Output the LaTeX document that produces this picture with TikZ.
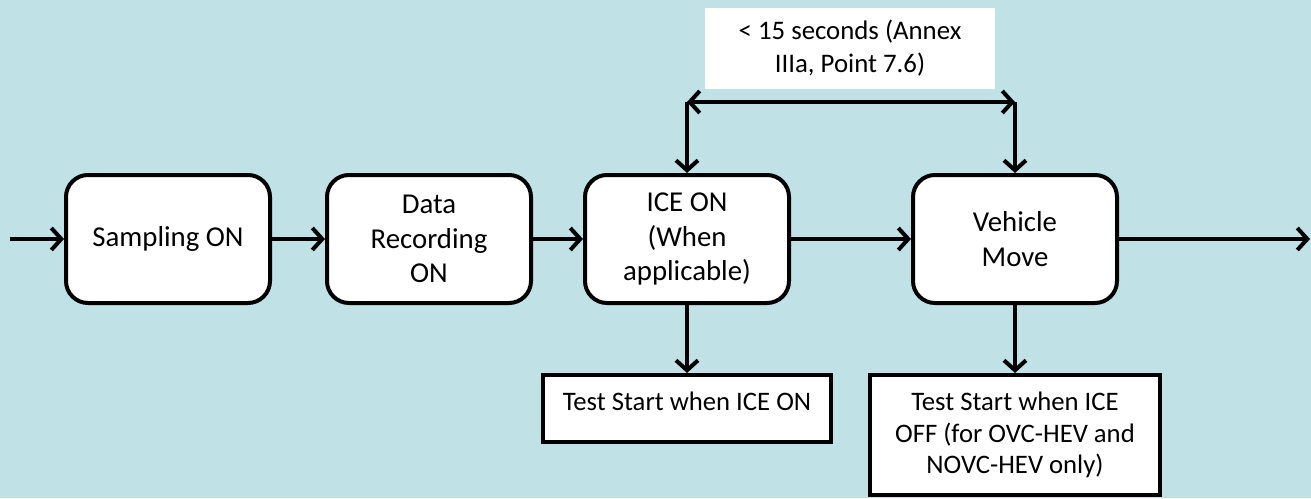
\documentclass[tikz,border=0pt]{standalone}
\usepackage{fontspec}
\setmainfont{Carlito}
\usetikzlibrary{arrows.meta}
\definecolor{bgblue}{RGB}{192,225,230}
\tikzset{
  flowbox/.style={draw=black, line width=4pt, fill=white, rounded corners=22pt,
    minimum width=204pt, minimum height=128pt, inner sep=0pt, align=center,
    font=\fontsize{28.8}{34.5}\selectfont},
  notebox/.style={draw=black, line width=4pt, fill=white, inner sep=0pt, align=center,
    font=\fontsize{26.7}{31.5}\selectfont},
  labelbox/.style={fill=white, inner sep=0pt, align=center,
    minimum width=290pt, minimum height=81pt, font=\fontsize{26.8}{33}\selectfont},
  arr/.style={line width=4pt, -{Straight Barb[length=10pt,width=22pt]}},
  darr/.style={line width=4pt, {Straight Barb[length=10pt,width=22pt]}-{Straight Barb[length=10pt,width=22pt]}},
  plain/.style={line width=4pt}
}
\begin{document}
\begin{tikzpicture}[x=1pt,y=-1pt]
\useasboundingbox[fill=bgblue] (0,0) rectangle (1311,498);

\node[flowbox] (samp) at (168,239) {Sampling ON};
\node[flowbox] (data) at (429,239) {Data\\Recording\\ON};
\node[flowbox] (ice) at (687,239) {ICE ON\\(When\\applicable)};
\node[flowbox] (veh) at (1015,239) {Vehicle\\Move};

\node[labelbox] (lab) at (850,48.5) {< 15 seconds (Annex\\IIIa, Point 7.6)};

\node[notebox, minimum width=288pt, minimum height=67pt, text height=17pt, text depth=13pt] (t1) at (687,408.5) {Test Start when ICE ON};
\node[notebox, minimum width=290pt, minimum height=120pt] (t2) at (1015,435) {Test Start when ICE\\OFF (for OVC-HEV and\\NOVC-HEV only)};

\coordinate (in) at (10,239);
\coordinate (out) at (1310,239);
\coordinate (L) at (687,102);
\coordinate (R) at (1015,102);

\draw[arr] (in) -- (samp.west);
\draw[arr] (samp.east) -- (data.west);
\draw[arr] (data.east) -- (ice.west);
\draw[arr] (ice.east) -- (veh.west);
\draw[arr] (veh.east) -- (out);

\draw[darr] (L) -- (R);
\draw[arr] (L) -- (ice.north);
\draw[arr] (R) -- (veh.north);

\draw[arr] (ice.south) -- (t1.north);
\draw[arr] (veh.south) -- (t2.north);
\end{tikzpicture}
\end{document}
